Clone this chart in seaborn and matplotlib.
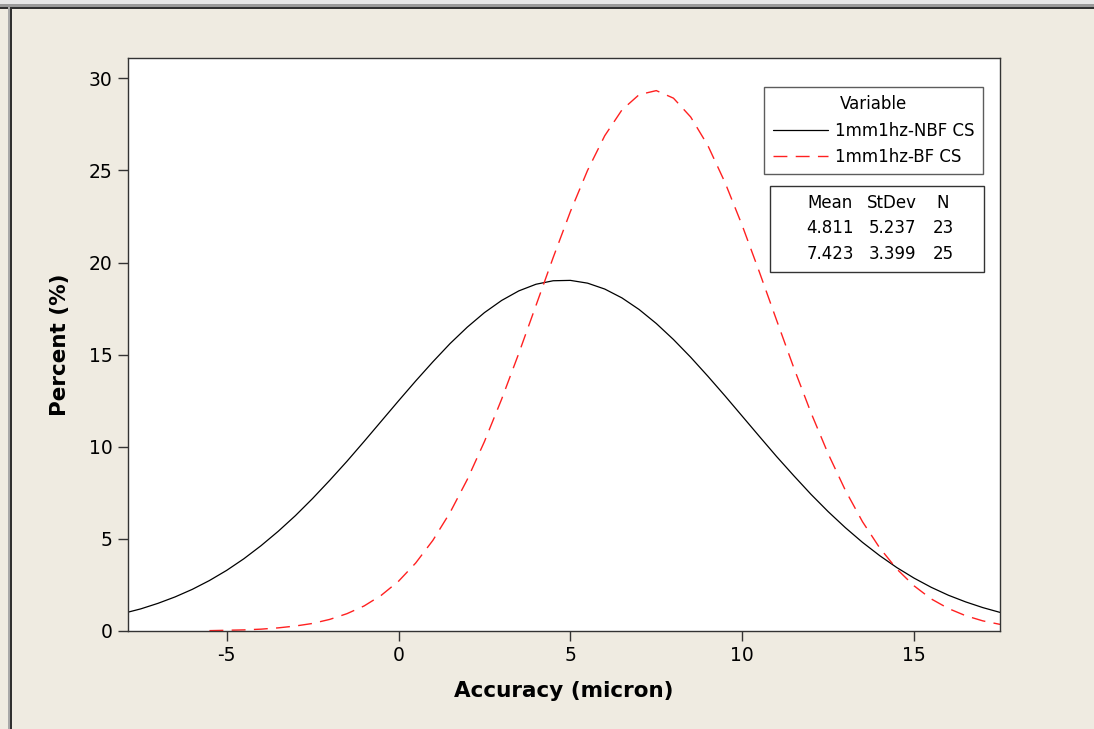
"""
plot.py
normal fit curves for the two 1mm1hz CS runs (Minitab style)
"""
import matplotlib
matplotlib.use("Agg")
import matplotlib.pyplot as plt
from matplotlib.patches import Rectangle
from matplotlib.lines import Line2D
import seaborn as sns
import pandas as pd

# x grid and curve values (percent)
nbf_x = [-8, -7.5, -7, -6.5, -6, -5.5, -5, -4.5, -4, -3.5, -3, -2.5, -2, -1.5, -1, -0.5,
         0, 0.5, 1, 1.5, 2, 2.5, 3, 3.5, 4, 4.5, 5, 5.5, 6, 6.5, 7, 7.5, 8, 8.5, 9, 9.5,
         10, 10.5, 11, 11.5, 12, 12.5, 13, 13.5, 14, 14.5, 15, 15.5, 16, 16.5, 17, 17.5]
nbf_y = [0.96, 1.20, 1.50, 1.85, 2.26, 2.74, 3.29, 3.92, 4.63, 5.41, 6.26, 7.19, 8.18,
         9.21, 10.29, 11.39, 12.49, 13.57, 14.61, 15.60, 16.49, 17.28, 17.94, 18.46,
         18.82, 19.01, 19.03, 18.88, 18.56, 18.08, 17.45, 16.69, 15.82, 14.86, 13.83,
         12.76, 11.66, 10.56, 9.47, 8.43, 7.42, 6.48, 5.61, 4.81, 4.09, 3.44, 2.87,
         2.37, 1.94, 1.58, 1.27, 1.01]

bf_x = [-5.5, -5, -4.5, -4, -3.5, -3, -2.5, -2, -1.5, -1, -0.5,
        0, 0.5, 1, 1.5, 2, 2.5, 3, 3.5, 4, 4.5, 5, 5.5, 6, 6.5, 7, 7.5, 8, 8.5, 9, 9.5,
        10, 10.5, 11, 11.5, 12, 12.5, 13, 13.5, 14, 14.5, 15, 15.5, 16, 16.5, 17, 17.5]
bf_y = [0.02, 0.04, 0.06, 0.10, 0.17, 0.27, 0.41, 0.63, 0.94, 1.36, 1.94,
        2.70, 3.69, 4.92, 6.43, 8.22, 10.28, 12.58, 15.07, 17.67, 20.27, 22.76, 25.00,
        26.88, 28.28, 29.11, 29.33, 28.92, 27.90, 26.35, 24.34, 22.01, 19.48, 16.87,
        14.29, 11.85, 9.62, 7.64, 5.93, 4.51, 3.36, 2.45, 1.74, 1.22, 0.83, 0.55, 0.36]

variables = ["1mm1hz-NBF CS", "1mm1hz-BF CS"]
means = ["4.811", "7.423"]
stdevs = ["5.237", "3.399"]
counts = ["23", "25"]

x_ticks = [-5, 0, 5, 10, 15]
y_ticks = [0, 5, 10, 15, 20, 25, 30]

bg = "#efebe1"
red = "#ff2020"
red_dash = (0, (10, 6))

sns.set_style("white")
plt.rcParams['font.family'] = ['DejaVu Sans']
plt.rcParams['axes.unicode_minus'] = False
plt.rcParams['text.color'] = "black"
plt.rcParams['axes.labelcolor'] = "black"
plt.rcParams['xtick.color'] = "black"
plt.rcParams['ytick.color'] = "black"

W, H = 1094, 729
fig = plt.figure(figsize=(W / 100, H / 100), dpi=100, facecolor=bg)


# helper: pixel box -> figure fraction
def px(x0, y0, x1, y1):
    return [x0 / W, 1 - y1 / H, (x1 - x0) / W, (y1 - y0) / H]


# window frame bits (top strip and left edge)
for (x0, y0, x1, y1, c) in [(0, 0, W, 4, "#e6e6e6"), (0, 4, W, 7, "#9a9a9a"),
                            (0, 7, W, 8.5, "#303030"), (8, 7, 10, H, "#a8a8a8"),
                            (10, 7, 12, H, "#303030")]:
    b = px(x0, y0, x1, y1)
    fig.patches.append(Rectangle((b[0], b[1]), b[2], b[3], transform=fig.transFigure,
                                 facecolor=c, edgecolor="none", zorder=0))

ax = fig.add_axes(px(128, 58, 1000, 631))
ax.set_facecolor("white")

df_nbf = pd.DataFrame({"x": nbf_x, "y": nbf_y})
df_bf = pd.DataFrame({"x": bf_x, "y": bf_y})
sns.lineplot(data=df_nbf, x="x", y="y", ax=ax, color="black", linewidth=0.9)
sns.lineplot(data=df_bf, x="x", y="y", ax=ax, color=red, linewidth=1.0,
             linestyle=red_dash)

ax.set_xlim(-7.87, 17.5)
ax.set_ylim(0, 31.1)
ax.set_xticks(x_ticks)
ax.set_yticks(y_ticks)
ax.tick_params(axis="both", direction="out", length=7, width=1, color="#333333",
               labelsize=13.5, pad=4, left=True, bottom=True)
for s in ax.spines.values():
    s.set_color("#333333")
    s.set_linewidth(1)

ax.set_xlabel("Accuracy (micron)", fontsize=15.5, fontweight="bold", labelpad=11)
ax.set_ylabel("Percent (%)", fontsize=15.5, fontweight="bold", labelpad=14)

# legend box
handles = [Line2D([], [], color="black", lw=0.9),
           Line2D([], [], color=red, lw=1.0, linestyle=red_dash)]
leg = ax.legend(handles, variables, title="Variable", loc="upper right",
                bbox_to_anchor=(983 / W, 1 - 87 / H), bbox_transform=fig.transFigure,
                fancybox=False, frameon=True, fontsize=12, title_fontsize=12,
                handlelength=3.3, borderpad=0.5, labelspacing=0.5, handletextpad=0.45,
                borderaxespad=0)
leg.get_frame().set_edgecolor("#333333")
leg.get_frame().set_linewidth(1)

# stats table
b = px(770, 186, 984, 272)
fig.patches.append(Rectangle((b[0], b[1]), b[2], b[3], transform=fig.transFigure,
                             facecolor="white", edgecolor="#333333", lw=1, zorder=5))
col_x = [830, 892, 943]
rows = [["Mean", "StDev", "N"]] + [[m, s, n] for m, s, n in zip(means, stdevs, counts)]
row_y = [203, 228, 254]
for r, yy in zip(rows, row_y):
    for txt, xx in zip(r, col_x):
        fig.text(xx / W, 1 - yy / H, txt, ha="center", va="center", fontsize=12,
                 zorder=6)

fig.savefig("out.png", dpi=100, facecolor=bg)
